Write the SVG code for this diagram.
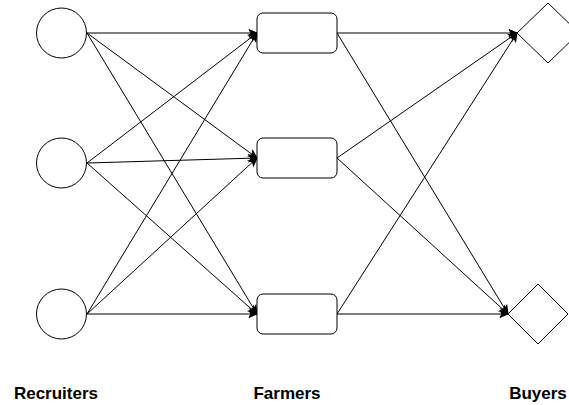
<svg xmlns="http://www.w3.org/2000/svg" width="569" height="405" viewBox="0 0 569 405">
<style>
.n{fill:#fff;stroke:#000;stroke-width:1}
.e{fill:none;stroke:#000;stroke-width:1;marker-end:url(#a)}
.t{font-family:"Liberation Sans",Arial,sans-serif;font-weight:bold;font-size:17px;fill:#000;text-anchor:middle}
</style>
<defs>
<marker id="a" markerUnits="userSpaceOnUse" markerWidth="10" markerHeight="10" refX="8" refY="4" orient="auto" overflow="visible">
<path d="M0,0.5 L8,4 L0,7.5 L2,4 Z" fill="#000" stroke="#000" stroke-width="1"/>
</marker>
</defs>
<g id="edges">
<path class="e" d="M87,33 L257,33"/>
<path class="e" d="M87,33 L257,158"/>
<path class="e" d="M87,33 L257,314"/>
<path class="e" d="M87,163 L257,33"/>
<path class="e" d="M87,163 L257,158"/>
<path class="e" d="M87,163 L257,314"/>
<path class="e" d="M87,314 L257,33"/>
<path class="e" d="M87,314 L257,158"/>
<path class="e" d="M87,314 L257,314"/>
<path class="e" d="M337,33 L517,33"/>
<path class="e" d="M337,33 L508,314"/>
<path class="e" d="M337,158 L517,33"/>
<path class="e" d="M337,158 L508,314"/>
<path class="e" d="M337,314 L517,33"/>
<path class="e" d="M337,314 L508,314"/>
</g>
<g id="r1"><circle class="n" cx="61.5" cy="33" r="25"/></g>
<g id="r2"><circle class="n" cx="61.5" cy="163" r="25"/></g>
<g id="r3"><circle class="n" cx="61.5" cy="314" r="25"/></g>
<g id="f1"><rect class="n" x="257" y="13" width="80" height="40" rx="6"/></g>
<g id="f2"><rect class="n" x="257" y="138" width="80" height="40" rx="6"/></g>
<g id="f3"><rect class="n" x="257" y="294" width="80" height="40" rx="6"/></g>
<g id="b1"><path class="n" d="M517,33 L548,3 L579,33 L548,63 Z"/></g>
<g id="b2"><path class="n" d="M508,314 L538,284 L568,314 L538,344 Z"/></g>
<g id="labels">
<text class="t" x="56" y="399">Recruiters</text>
<text class="t" x="287" y="399">Farmers</text>
<text class="t" x="538" y="399">Buyers</text>
</g>
</svg>
